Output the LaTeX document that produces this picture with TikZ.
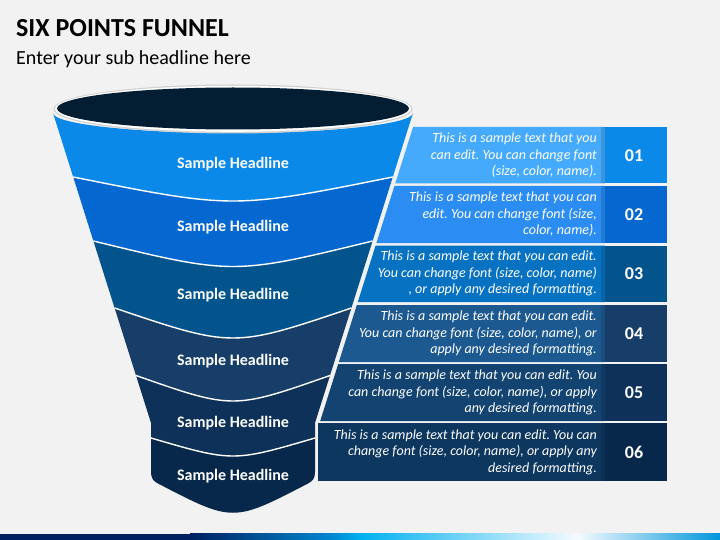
\documentclass[tikz,border=0pt]{standalone}
\usepackage{fontspec}
\setmainfont{Carlito}
\frenchspacing
\definecolor{bg}{HTML}{F2F2F2}
\definecolor{rim}{HTML}{031D33}
\definecolor{cA}{HTML}{0B89E8}\definecolor{tA}{HTML}{45AAFB}
\definecolor{cB}{HTML}{0567D0}\definecolor{tB}{HTML}{2B8DF2}
\definecolor{cC}{HTML}{03548D}\definecolor{tC}{HTML}{0872C2}
\definecolor{cD}{HTML}{163E69}\definecolor{tD}{HTML}{1D5991}
\definecolor{cE}{HTML}{0D3158}\definecolor{tE}{HTML}{134371}
\definecolor{cF}{HTML}{07284A}\definecolor{tF}{HTML}{0D375F}
\definecolor{navy}{HTML}{002060}
\definecolor{midblue}{HTML}{0086CF}
\definecolor{cyanb}{HTML}{00B0F0}
\definecolor{pale}{HTML}{F5FBFF}
\definecolor{endblue}{HTML}{0095DB}
\tikzset{
  headl/.style={text=white,font=\fontsize{16}{19}\selectfont\bfseries,anchor=base,inner sep=0pt},
  bodytxt/.style={text=white,font=\fontsize{14}{16.6}\selectfont\itshape,align=right,anchor=east,inner sep=0pt},
  numtxt/.style={text=white,font=\fontsize{18}{21}\selectfont\bfseries,inner sep=0pt},
  sepline/.style={draw=white,line width=1.4pt},
}
\begin{document}
\begin{tikzpicture}[x=1pt,y=-1pt]
\useasboundingbox (0,0) rectangle (720,540);
\fill[bg] (0,0) rectangle (720,540);

% title
\node[anchor=base west,inner sep=0pt,font=\fontsize{26}{31}\selectfont\bfseries] (title) at (16,37) {SIX POINTS FUNNEL};
\node[anchor=base west,inner sep=0pt,font=\fontsize{20}{24}\selectfont] (subtitle) at (16,65) {Enter your sub headline here};

% funnel bands
\fill[cA] (53,113) -- (73.2,177) .. controls (233,209) .. (392.8,177) -- (413,113)
  .. controls (413,124.05) and (332.4,133) .. (233,133) .. controls (133.6,133) and (53,124.05) .. (53,113) -- cycle;
\fill[cB] (73.2,177) -- (93.4,241) .. controls (233,275) .. (372.6,241) -- (392.8,177) .. controls (233,209) .. (73.2,177) -- cycle;
\fill[cC] (93.4,241) -- (114.6,308) .. controls (233,348) .. (351.4,308) -- (372.6,241) .. controls (233,275) .. (93.4,241) -- cycle;
\fill[cD] (114.6,308) -- (136,375.5) .. controls (233,409.5) .. (330,375.5) -- (351.4,308) .. controls (233,348) .. (114.6,308) -- cycle;
\fill[cE] (136,375.5) -- (151,423) -- (151,438) .. controls (233,462) .. (315,438) -- (315,423) -- (330,375.5) .. controls (233,409.5) .. (136,375.5) -- cycle;
\fill[cF] (151,438) -- (151,472) .. controls (151,478) and (153,481) .. (158,483.5)
  .. controls (233,522.5) .. (308,483.5) .. controls (313,481) and (315,478) .. (315,472)
  -- (315,438) .. controls (233,462) .. (151,438) -- cycle;

% separators
\draw[sepline] (73.2,177) .. controls (233,209) .. (392.8,177);
\draw[sepline] (93.4,241) .. controls (233,275) .. (372.6,241);
\draw[sepline] (114.6,308) .. controls (233,348) .. (351.4,308);
\draw[sepline] (136,375.5) .. controls (233,409.5) .. (330,375.5);
\draw[sepline] (151,438) .. controls (233,462) .. (315,438);

% top opening
\fill[black!18] (233,109) ellipse [x radius=179.5pt, y radius=24.5pt];
\fill[white] (233,108.8) ellipse [x radius=178pt, y radius=23pt];
\fill[rim] (233,108.5) ellipse [x radius=176pt, y radius=21pt];

% headlines
\node[headl] (h1) at (233,169) {Sample Headline};
\node[headl] (h2) at (233,231.5) {Sample Headline};
\node[headl] (h3) at (233,299) {Sample Headline};
\node[headl] (h4) at (233,365) {Sample Headline};
\node[headl] (h5) at (233,427) {Sample Headline};
\node[headl] (h6) at (233,480) {Sample Headline};

% text boxes
\fill[tA] (413.1,127) -- (605,127) -- (605,183.5) -- (395.2,183.5) -- cycle;
\fill[tB] (394.4,186) -- (605,186) -- (605,243) -- (376.4,243) -- cycle;
\fill[tC] (375.6,245.5) -- (605,245.5) -- (605,302) -- (357.8,302) -- cycle;
\fill[tD] (356.8,305) -- (605,305) -- (605,362) -- (338.8,362) -- cycle;
\fill[tE] (338.2,364) -- (605,364) -- (605,421) -- (320.2,421) -- cycle;
\fill[tF] (318,423) rectangle (605,481);

% number boxes with a small shadow
\foreach \t/\b/\c in {127/183.5/cA,186/243/cB,245.5/302/cC,305/362/cD,364/421/cE,423/481/cF}{
  \fill[black,opacity=0.12] (601,\t) rectangle (605,\b);
  \fill[\c] (605,\t) rectangle (667,\b);
}

% body text
\node[bodytxt] (t1) at (597,155.2) {This is a sample text that you\\can edit. You can change font\\(size, color, name).};
\node[bodytxt] (t2) at (597,214.5) {This is a sample text that you can\\edit. You can change font (size,\\color, name).};
\node[bodytxt] (t3) at (597,273.7) {This is a sample text that you can edit.\\You can change font (size, color, name)\\, or apply any desired formatting.};
\node[bodytxt] (t4) at (597,333.5) {This is a sample text that you can edit.\\You can change font (size, color, name), or\\apply any desired formatting.};
\node[bodytxt] (t5) at (597,392.5) {This is a sample text that you can edit. You\\can change font (size, color, name), or apply\\any desired formatting.};
\node[bodytxt] (t6) at (597,452) {This is a sample text that you can edit. You can\\change font (size, color, name), or apply any\\desired formatting.};

% numbers
\node[numtxt] (n1) at (634,155.2) {01};
\node[numtxt] (n2) at (634,214.5) {02};
\node[numtxt] (n3) at (634,273.7) {03};
\node[numtxt] (n4) at (634,333.5) {04};
\node[numtxt] (n5) at (634,392.5) {05};
\node[numtxt] (n6) at (634,452) {06};

% bottom bar
\fill[navy] (0,533.5) rectangle (190.5,540);
\shade[left color=navy,right color=midblue] (190,533.5) rectangle (330.5,540);
\shade[left color=midblue,right color=cyanb] (330,533.5) rectangle (360.5,540);
\shade[left color=cyanb,right color=pale] (360,533.5) rectangle (577.5,540);
\shade[left color=pale,right color=endblue] (577,533.5) rectangle (720,540);
\end{tikzpicture}
\end{document}
